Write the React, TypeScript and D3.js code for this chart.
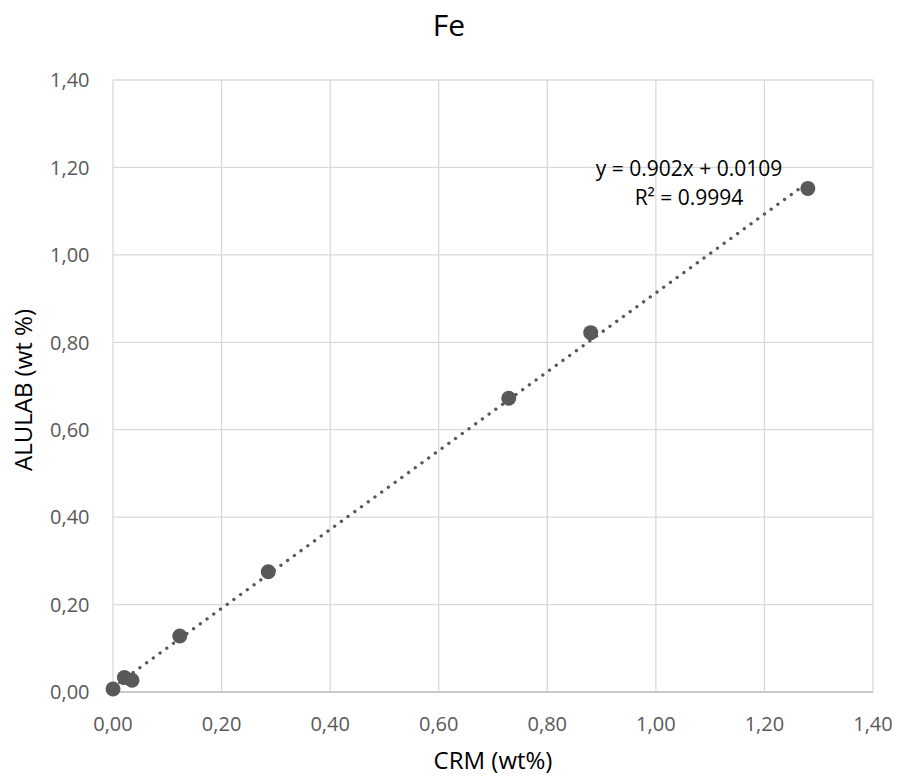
import React from "react";
import * as d3 from "d3";

// CRM (wt%) vs ALULAB (wt %)
const crmValues = [0.0, 0.021, 0.035, 0.123, 0.286, 0.729, 0.88, 1.28];
const alulabValues = [0.007, 0.033, 0.027, 0.128, 0.275, 0.672, 0.822, 1.152];
const tickValues = [0, 0.2, 0.4, 0.6, 0.8, 1.0, 1.2, 1.4];
const slope = 0.902;
const intercept = 0.0109;
const equationLines = ["y = 0.902x + 0.0109", "R² = 0.9994"];

const W = 900;
const H = 780;
const margin = { left: 113, right: 27, top: 80, bottom: 88 };
const font = "'Open Sans', 'Liberation Sans', sans-serif";
const grey = "#595959";

export default function App() {
  const x = d3.scaleLinear().domain([0, 1.4]).range([margin.left, W - margin.right]);
  const y = d3.scaleLinear().domain([0, 1.4]).range([H - margin.bottom, margin.top]);
  const fmt = (v: number) => v.toFixed(2).replace(".", ",");

  const xMin = d3.min(crmValues) as number;
  const xMax = d3.max(crmValues) as number;
  const trend = d3.line<number>()
    .x(d => x(d))
    .y(d => y(slope * d + intercept))([xMin, xMax]);

  return (
    <svg width={W} height={H} style={{ position: "absolute", left: 0, top: 0 }} fontFamily={font}>
      <rect width={W} height={H} fill="#fff" />
      <text x={449} y={36} textAnchor="middle" fontSize={30} fill="#000">Fe</text>

      {/* grid */}
      {tickValues.map(t => (
        <line key={"gx" + t} x1={x(t)} x2={x(t)} y1={y(0)} y2={y(1.4)} stroke="#d9d9d9" strokeWidth={1.3} />
      ))}
      {tickValues.map(t => (
        <line key={"gy" + t} x1={x(0)} x2={x(1.4)} y1={y(t)} y2={y(t)} stroke="#d9d9d9" strokeWidth={1.3} />
      ))}
      <line x1={x(0)} x2={x(1.4)} y1={y(0)} y2={y(0)} stroke="#bfbfbf" strokeWidth={1.3} />

      {/* tick labels */}
      {tickValues.map(t => (
        <text key={"ty" + t} x={x(0) - 23.5} y={y(t) + 7.3} textAnchor="end" fontSize={20} fill={grey}>{fmt(t)}</text>
      ))}
      {tickValues.map(t => (
        <text key={"tx" + t} x={x(t)} y={y(0) + 38.5} textAnchor="middle" fontSize={20} fill={grey}>{fmt(t)}</text>
      ))}

      {/* axis titles */}
      <text x={493} y={769} textAnchor="middle" fontSize={24} fill="#000">CRM (wt%)</text>
      <text transform="translate(32, 390) rotate(-90)" textAnchor="middle" fontSize={24} fill="#000">ALULAB (wt %)</text>

      {/* trendline */}
      <path d={trend ?? ""} fill="none" stroke={grey} strokeWidth={3.3} strokeDasharray="0.1 8.2" strokeLinecap="round" />

      {/* points */}
      {crmValues.map((c, i) => (
        <circle key={"p" + i} cx={x(c)} cy={y(alulabValues[i])} r={7.5} fill={grey} />
      ))}

      {/* equation */}
      {equationLines.map((l, i) => (
        <text key={"eq" + i} x={689} y={176 + i * 29} textAnchor="middle" fontSize={21} fill="#000">{l}</text>
      ))}
    </svg>
  );
}
